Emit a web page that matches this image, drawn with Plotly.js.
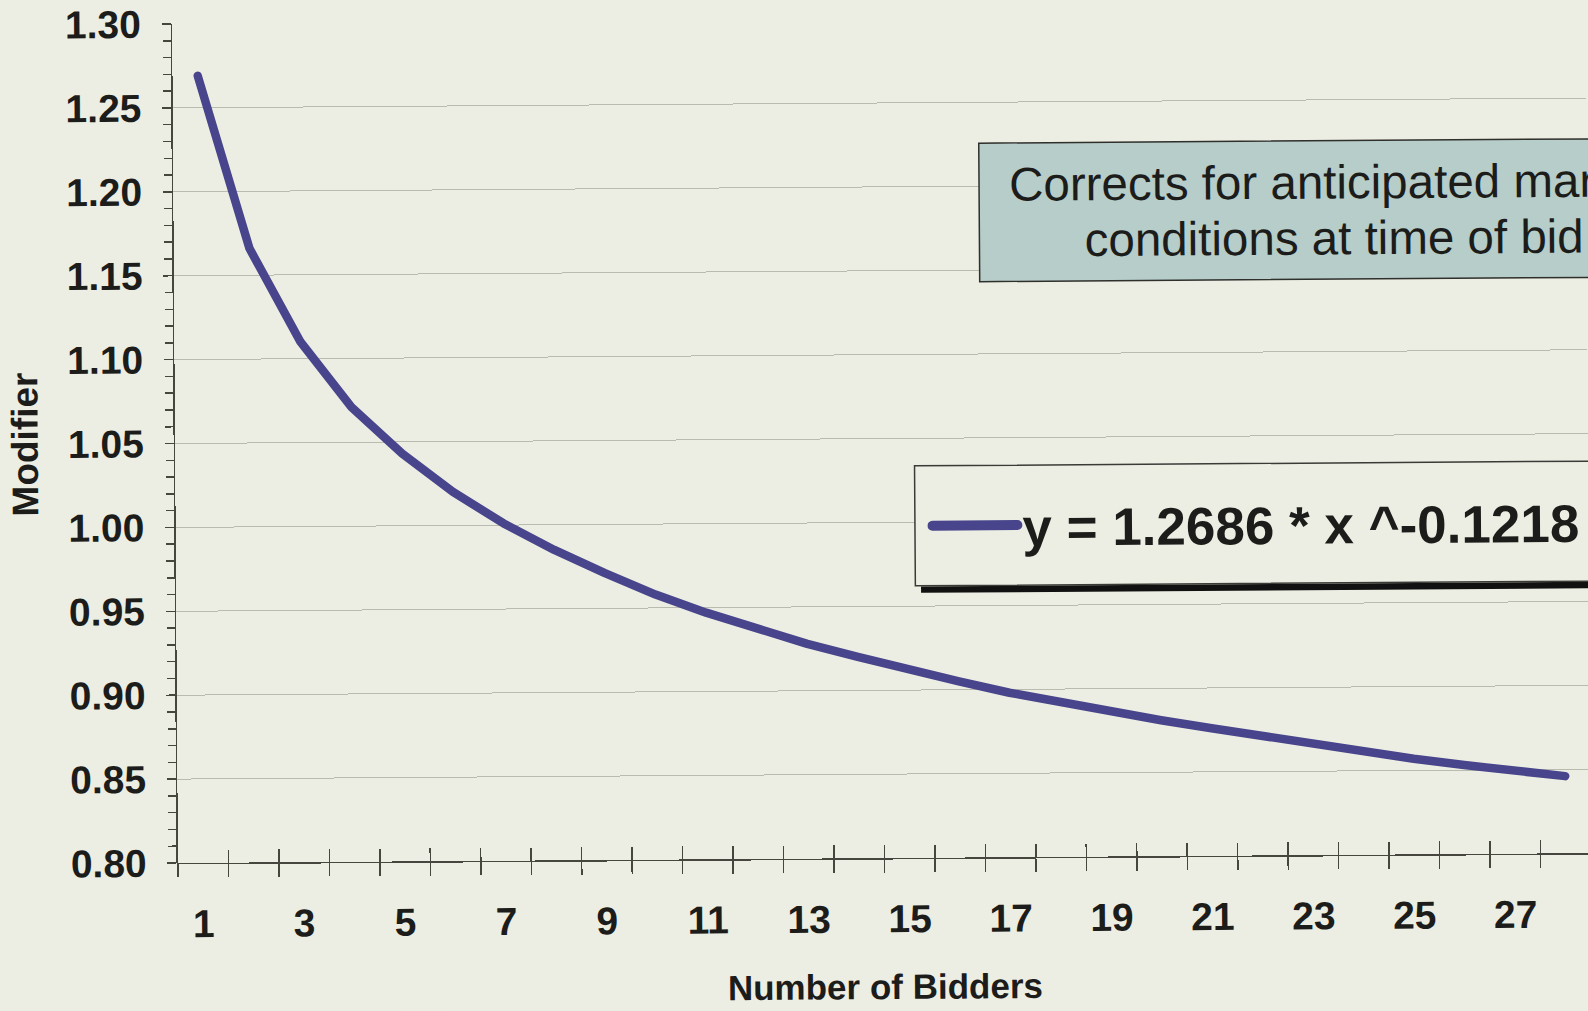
<!DOCTYPE html>
<html>
<head>
<meta charset="utf-8">
<script src="https://cdn.plot.ly/plotly-3.0.1.min.js"></script>
<style>
  html, body { margin: 0; padding: 0; overflow: hidden; background: #edeee3; width: 1588px; height: 1011px; }
  #chart { width: 1600px; height: 1011px; transform: rotate(-0.4deg); transform-origin: 178px 863px; }
</style>
</head>
<body>
<div id="chart"></div>
<script>
// ---- data ----
const bidders = [1, 2, 3, 4, 5, 6, 7, 8, 9, 10, 11, 12, 13, 14, 15, 16, 17, 18, 19, 20, 21, 22, 23, 24, 25, 26, 27, 28];
const modifier = [1.269, 1.166, 1.110, 1.071, 1.043, 1.020, 1.001, 0.985, 0.971, 0.958, 0.947, 0.937, 0.928, 0.920,
                  0.912, 0.905, 0.898, 0.892, 0.886, 0.881, 0.876, 0.871, 0.866, 0.862, 0.857, 0.853, 0.849, 0.846];
const seriesName = 'y = 1.2686 * x ^-0.1218';
const noteLines = ['Corrects for anticipated market', 'conditions at time of bid'];
const xTitle = 'Number of Bidders';
const yTitle = 'Modifier';

const FONT = 'Liberation Sans, Arial, Helvetica, sans-serif';
const INK = '#1c1c1a';
const AXIS = '#46463e';
const BG = '#edeee3';
const LINE = '#48458c';

const traces = [
  {
    x: bidders, y: modifier, type: 'scatter', mode: 'lines', name: seriesName,
    line: { color: LINE, width: 8.5 }, hoverinfo: 'skip'
  },
  { x: [], y: [], xaxis: 'x2', yaxis: 'y', type: 'scatter', mode: 'lines', showlegend: false, hoverinfo: 'skip' }
];

const layout = {
  width: 1600, height: 1011,
  margin: { l: 178, r: 9, t: 24, b: 148 },
  paper_bgcolor: BG, plot_bgcolor: 'rgba(0,0,0,0)',
  showlegend: true,
  legend: {
    x: 0.532, xanchor: 'left', y: 0.3957, yanchor: 'middle',
    bgcolor: 'rgba(0,0,0,0)', borderwidth: 0, itemwidth: 85,
    font: { family: FONT, size: 53, weight: 'bold', color: INK }
  },
  xaxis: {
    range: [0.5, 28.5], tickmode: 'linear', tick0: 1, dtick: 2, ticks: '',
    showgrid: false, zeroline: false, showline: true, linecolor: AXIS, linewidth: 1.5,
    tickfont: { family: FONT, size: 39, weight: 'bold', color: INK },
    ticklabelstandoff: 26,
    minor: { tick0: 0.5, dtick: 1, ticks: 'outside', ticklen: 13, tickcolor: AXIS, tickwidth: 1.5, showgrid: false },
    title: { text: xTitle, font: { family: FONT, size: 35, weight: 'bold', color: INK }, standoff: 49 }
  },
  xaxis2: {
    overlaying: 'x', anchor: 'y', side: 'bottom', range: [0.5, 28.5],
    tickmode: 'linear', tick0: 0.5, dtick: 1, ticks: 'inside', ticklen: 13, tickcolor: AXIS, tickwidth: 1.5,
    showticklabels: false, showgrid: false, zeroline: false, showline: false
  },
  yaxis: {
    range: [0.8, 1.3], tickmode: 'linear', tick0: 0.8, dtick: 0.05, tickformat: '.2f',
    ticks: 'outside', ticklen: 9, tickcolor: AXIS, tickwidth: 1.5,
    showline: true, linecolor: AXIS, linewidth: 1.5,
    showgrid: true, gridcolor: '#b8bbae', gridwidth: 1, zeroline: false,
    tickfont: { family: FONT, size: 39, weight: 'bold', color: INK },
    ticklabelstandoff: 13,
    minor: { tick0: 0.8, dtick: 0.01, ticks: 'outside', ticklen: 8, tickcolor: AXIS, tickwidth: 1.5, showgrid: false },
    title: { text: yTitle, font: { family: FONT, size: 37, weight: 'bold', color: INK }, standoff: 18 }
  },
  shapes: [
    { type: 'rect', xref: 'paper', yref: 'paper', x0: 0.5272, x1: 1.08, y0: 0.3158, y1: 0.3235,
      fillcolor: '#111111', line: { width: 0 }, layer: 'above' },
    { type: 'rect', xref: 'paper', yref: 'paper', x0: 0.5232, x1: 1.08, y0: 0.3242, y1: 0.4672,
      fillcolor: BG, line: { color: '#3a3a36', width: 1.5 }, layer: 'above' }
  ],
  annotations: [
    {
      xref: 'paper', yref: 'paper', x: 0.5697, xanchor: 'left', y: 0.7691, yanchor: 'middle',
      showarrow: false, align: 'center',
      text: noteLines.map(s => '<span style="font-size:47.5px">' + s + '</span>').join('<br>'),
      font: { family: FONT, size: 43, color: INK },
      bgcolor: '#b6cdc9', bordercolor: '#2f2f2c', borderwidth: 1.5, borderpad: 0,
      width: 708, height: 137
    }
  ]
};

Plotly.newPlot('chart', traces, layout, { staticPlot: true, displayModeBar: false }).then(gd => {
  // match the reference's rounded line ends and thick legend swatch
  gd.querySelectorAll('.scatterlayer .js-line').forEach(p => {
    p.style.strokeLinecap = 'round';
    p.style.strokeLinejoin = 'round';
  });
  gd.querySelectorAll('.legend .legendlines path').forEach(p => {
    p.style.strokeWidth = '10px';
    p.style.strokeLinecap = 'round';
  });
});
</script>
</body>
</html>
